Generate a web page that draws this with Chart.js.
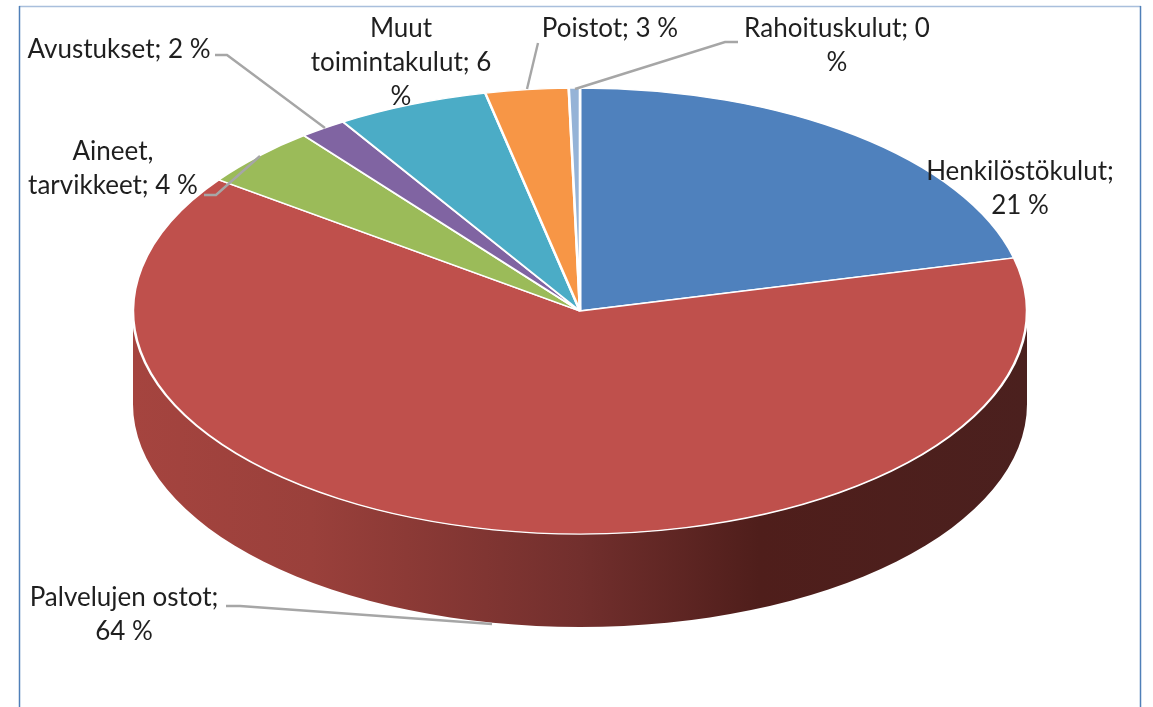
<!DOCTYPE html>
<html>
<head>
<meta charset="utf-8">
<title>Kulut</title>
<style>
  html, body { margin: 0; padding: 0; background: #fff; overflow: hidden; }
  canvas { display: block; }
</style>
<script src="https://cdn.jsdelivr.net/npm/chart.js@4/dist/chart.umd.min.js"></script>
</head>
<body>
<canvas id="chart" width="1153" height="707"></canvas>
<script>
// values (the labels only show rounded percents)
var categories = ["Henkilöstökulut", "Palvelujen ostot", "Aineet, tarvikkeet", "Avustukset", "Muut toimintakulut", "Poistot", "Rahoituskulut"];
var shares = [21.2, 63.9, 4.4, 1.7, 5.5, 3.0, 0.4];
var labelLines = [
    ["Henkilöstökulut;", "21 %"],
    ["Palvelujen ostot;", "64 %"],
    ["Aineet,", "tarvikkeet; 4 %"],
    ["Avustukset; 2 %"],
    ["Muut", "toimintakulut; 6", "%"],
    ["Poistot; 3 %"],
    ["Rahoituskulut; 0", "%"]
];
var sliceColors = ["#4f81bd", "#bf504c", "#9bbb59", "#8064a2", "#4bacc6", "#f79646", "#95b3d7"];

// centre of each label block (first line y) and the leader lines
var labelPos = [[1020, 172], [124, 598], [113, 152], [119, 50], [401, 29], [610, 29], [837, 29]];
var leaders = [
    [[226, 606], [240, 606], [492, 624]],
    [[204, 195], [216, 195], [260, 156]],
    [[215, 55], [227, 55], [325, 128]],
    [[538, 43], [527, 89]],
    [[738, 42], [725, 42], [575, 89]]
];

var STRETCH_X = 447 / 223;
var DEPTH = 93;
var LINE_H = 34;

// squashes the pie into an ellipse and puts the side wall under it
var tiltPlugin = {
    id: "tilt",
    beforeDraw: function(chart) {
        var ctx = chart.ctx;
        ctx.save();
        ctx.fillStyle = "#fff";
        ctx.fillRect(0, 0, chart.width, chart.height);
        ctx.lineWidth = 1.5;
        ctx.strokeStyle = "#a9bfdc";
        ctx.beginPath();
        ctx.moveTo(19, 6.5);
        ctx.lineTo(1141, 6.5);
        ctx.stroke();
        ctx.strokeStyle = "#4f7fb8";
        ctx.beginPath();
        ctx.moveTo(19.5, 6);
        ctx.lineTo(19.5, chart.height);
        ctx.moveTo(1140.5, 6);
        ctx.lineTo(1140.5, chart.height);
        ctx.stroke();
        ctx.restore();
    },
    beforeDatasetsDraw: function(chart) {
        var ctx = chart.ctx;
        var arcs = chart.getDatasetMeta(0).data;
        var rx = arcs[0].outerRadius * STRETCH_X;
        var ry = arcs[0].outerRadius;
        var cx = arcs[0].x;
        var cy = arcs[0].y;

        var grad = ctx.createLinearGradient(cx - rx, 0, cx + rx, 0);
        grad.addColorStop(0, "#a5443f");
        grad.addColorStop(0.2, "#9a403b");
        grad.addColorStop(0.5, "#722f2d");
        grad.addColorStop(0.7, "#4f1e1b");
        grad.addColorStop(1, "#4b201e");

        arcs.forEach(function(arc) {
            var a0 = Math.max(arc.startAngle, 0);
            var a1 = Math.min(arc.endAngle, Math.PI);
            if (a1 <= a0) return;
            ctx.beginPath();
            ctx.ellipse(cx, cy, rx, ry, 0, a0, a1);
            ctx.ellipse(cx, cy + DEPTH, rx, ry, 0, a1, a0, true);
            ctx.closePath();
            ctx.fillStyle = grad;
            ctx.fill();
        });

        ctx.save();
        ctx.translate(cx, cy);
        ctx.scale(STRETCH_X, 1);
        ctx.translate(-cx, -cy);
    },
    afterDatasetsDraw: function(chart) {
        var ctx = chart.ctx;
        ctx.restore();

        ctx.strokeStyle = "#a6a6a6";
        ctx.lineWidth = 2.4;
        leaders.forEach(function(pts) {
            ctx.beginPath();
            pts.forEach(function(p, i) {
                if (i === 0) ctx.moveTo(p[0], p[1]);
                else ctx.lineTo(p[0], p[1]);
            });
            ctx.stroke();
        });

        ctx.fillStyle = "#1f1f1f";
        ctx.font = "26px Lato";
        ctx.textAlign = "center";
        ctx.textBaseline = "middle";
        labelLines.forEach(function(lines, i) {
            lines.forEach(function(line, j) {
                ctx.fillText(line, labelPos[i][0], labelPos[i][1] + j * LINE_H);
            });
        });
    }
};

new Chart(document.getElementById("chart").getContext("2d"), {
    type: "pie",
    data: {
        labels: categories,
        datasets: [{
            data: shares,
            backgroundColor: sliceColors,
            borderColor: "#fff",
            borderWidth: 1.3,
            clip: false
        }]
    },
    options: {
        responsive: false,
        animation: false,
        radius: 223,
        layout: { padding: { left: 357, right: 350, top: 88, bottom: 173 } },
        plugins: { legend: { display: false }, tooltip: { enabled: false } }
    },
    plugins: [tiltPlugin]
});
</script>
</body>
</html>
